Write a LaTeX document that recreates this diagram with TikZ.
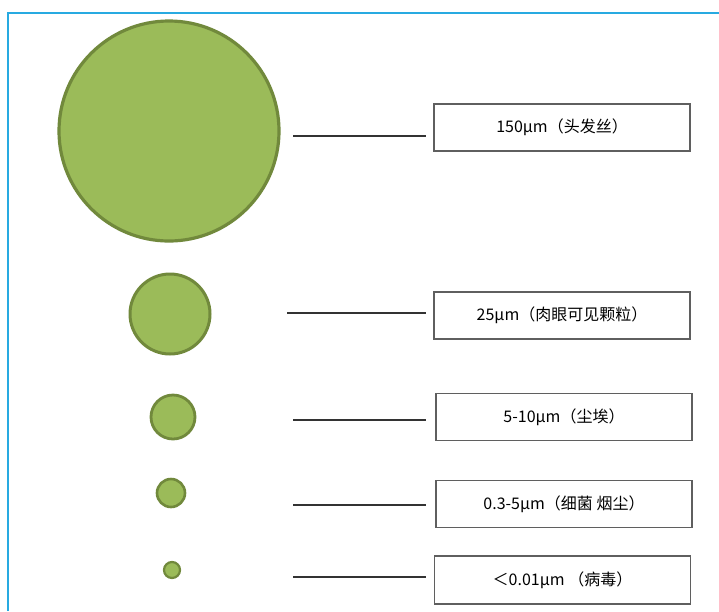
\documentclass[tikz,border=0pt]{standalone}
\usepackage{fontspec}
\newfontfamily\cjk{Noto Sans CJK SC}
\definecolor{dotfill}{RGB}{155,187,89}
\definecolor{dotedge}{RGB}{113,137,60}
\definecolor{frameblue}{RGB}{40,170,225}
\definecolor{boxedge}{RGB}{95,95,95}
\begin{document}
\begin{tikzpicture}[x=1pt,y=-1pt,
  dot/.style={circle,fill=dotfill,draw=dotedge,line width=3.2pt,inner sep=0pt},
  labelbox/.style={draw=boxedge,line width=1.3pt,fill=white,minimum width=256pt,minimum height=47pt,inner sep=0pt,font=\cjk\fontsize{16}{18}\selectfont},
  leader/.style={draw=black!80,line width=1.1pt}]
\useasboundingbox (0,0) rectangle (719,611);
\fill[white] (0,0) rectangle (719,611);
% frame
\draw[frameblue,line width=1.6pt] (8,611) -- (8,13) -- (719,13);
% circles
\node[dot,minimum size=220pt] (c1) at (169,131) {};
\node[dot,minimum size=80pt,line width=3pt] (c2) at (170,314) {};
\node[dot,minimum size=44pt,line width=2.8pt] (c3) at (173,417) {};
\node[dot,minimum size=28pt,line width=2.6pt] (c4) at (171,493) {};
\node[dot,minimum size=16pt,line width=2.2pt] (c5) at (172,570) {};
% boxes
\node[labelbox] (b1) at (562,127.5) {150μm（头发丝）};
\node[labelbox] (b2) at (562,315.5) {25μm（肉眼可见颗粒）};
\node[labelbox] (b3) at (564,417) {5-10μm（尘埃）};
\node[labelbox] (b4) at (564,504) {0.3-5μm（细菌 烟尘）};
\node[labelbox,minimum height=48pt] (b5) at (562.5,580) {＜0.01μm （病毒）};
% leader lines
\coordinate (l1a) at (293,136); \coordinate (l1b) at (426,136);
\coordinate (l2a) at (287,313); \coordinate (l2b) at (426,313);
\coordinate (l3a) at (293,420); \coordinate (l3b) at (426,420);
\coordinate (l4a) at (293,505); \coordinate (l4b) at (426,505);
\coordinate (l5a) at (293,577); \coordinate (l5b) at (426,577);
\draw[leader] (l1a) -- (l1b);
\draw[leader] (l2a) -- (l2b);
\draw[leader] (l3a) -- (l3b);
\draw[leader] (l4a) -- (l4b);
\draw[leader] (l5a) -- (l5b);
\end{tikzpicture}
\end{document}
